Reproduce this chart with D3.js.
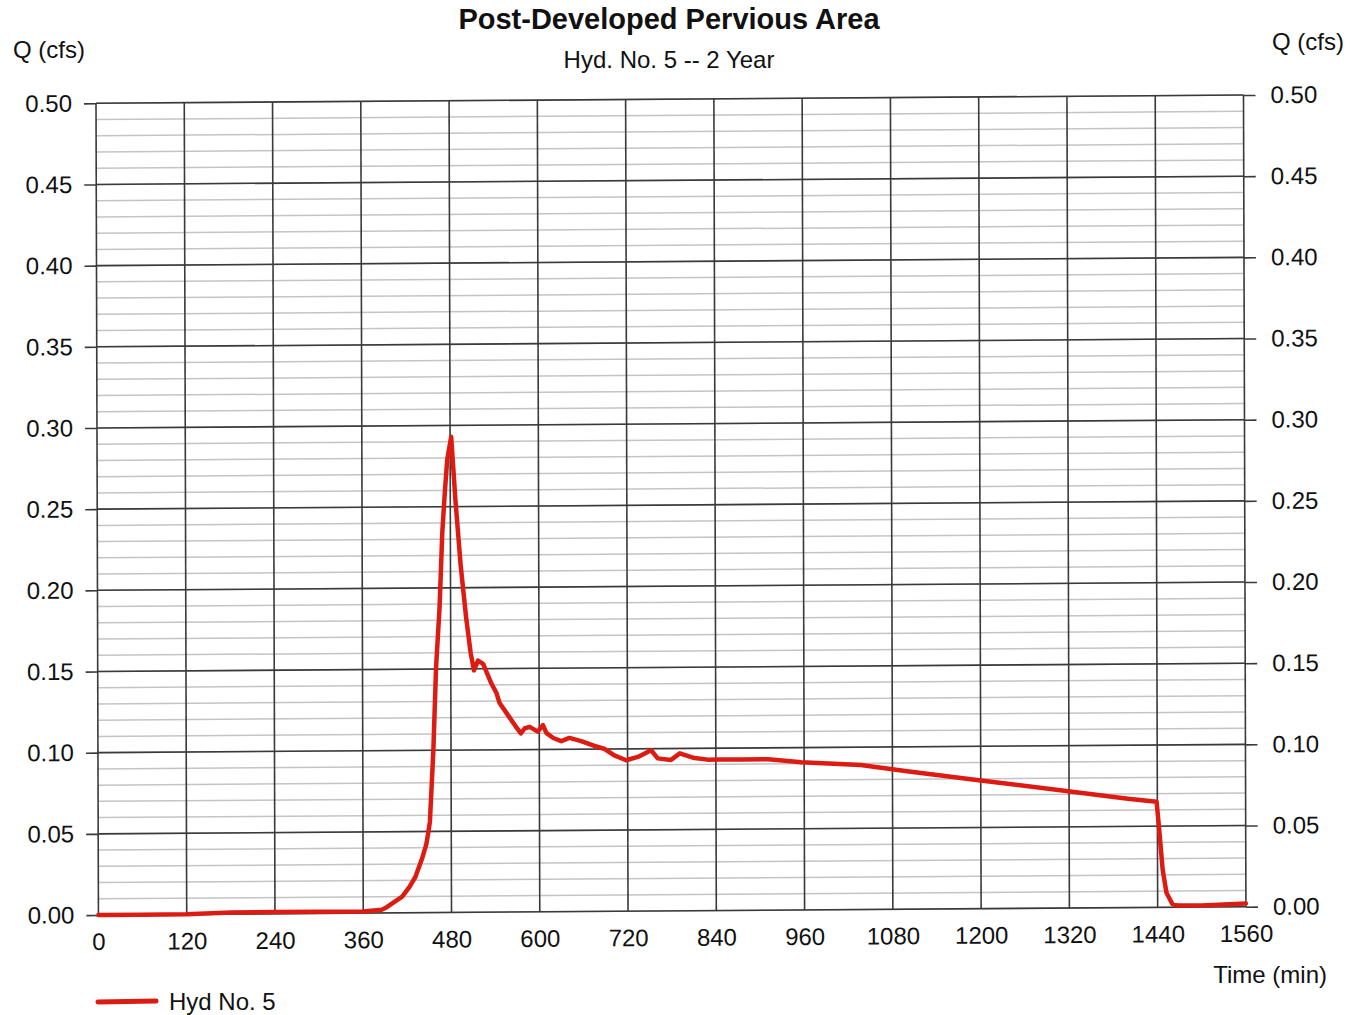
<!DOCTYPE html>
<html>
<head>
<meta charset="utf-8">
<script src="https://cdn.jsdelivr.net/npm/d3@7"></script>
<style>
  body { margin: 0; background: #fff; }
  svg { font-family: "Liberation Sans", Arial, sans-serif; }
</style>
</head>
<body>
<svg id="chart" width="1359" height="1015"></svg>
<script>
// hydrograph values
var timeMin = [0, 60, 120, 180, 240, 300, 360, 385, 390, 400, 413, 423, 431, 440, 446, 449, 451,
  456, 460, 465, 469, 472.5, 476, 481.5, 487, 494, 501, 507, 511.5, 517, 524, 535, 542, 546,
  558, 567, 575, 580, 587, 598, 605, 610, 619, 630, 641, 657, 675, 689, 702, 718, 734, 752,
  761, 779, 791, 811, 829, 847, 874, 911, 956, 1037, 1100, 1200, 1300, 1400, 1439, 1442,
  1447, 1452, 1460, 1467, 1500, 1560]
var flowCfs = [0.000, 0.000, 0.000, 0.001, 0.001, 0.001, 0.001, 0.002, 0.003, 0.006, 0.010,
  0.016, 0.022, 0.033, 0.042, 0.050, 0.056, 0.100, 0.151, 0.188, 0.234, 0.258, 0.279, 0.293,
  0.254, 0.213, 0.182, 0.160, 0.149, 0.155, 0.153, 0.141, 0.135, 0.129, 0.121, 0.115, 0.110,
  0.113, 0.114, 0.111, 0.115, 0.110, 0.107, 0.105, 0.107, 0.105, 0.102, 0.100, 0.096, 0.093,
  0.095, 0.099, 0.094, 0.093, 0.097, 0.094, 0.093, 0.093, 0.093, 0.093, 0.091, 0.089, 0.085,
  0.079, 0.073, 0.067, 0.065, 0.050, 0.023, 0.009, 0.002, 0.001, 0.001, 0.002]

var xTicks = d3.range(0, 1561, 120)
var yMajor = d3.range(0, 0.501, 0.05)
var yMinor = d3.range(0, 0.501, 0.01)

var titleText = "Post-Developed Pervious Area"
var subTitleText = "Hyd. No. 5 -- 2 Year"
var seriesName = "Hyd No. 5"

var svg = d3.select("#chart")

var width = 1147.5, height = 811.7

var x = d3.scaleLinear().domain([0, 1560]).range([0, width])
var y = d3.scaleLinear().domain([0, 0.5]).range([height, 0])

// the scanned page is slightly tilted, so the plot frame is too
var plot = svg.append("g")
  .attr("transform", "matrix(1,-0.0072,0.003,1,96,103.3)")

// minor grid
plot.append("g").selectAll("line")
  .data(yMinor)
  .enter().append("line")
  .attr("x1", 0).attr("x2", width)
  .attr("y1", function (d) { return y(d) })
  .attr("y2", function (d) { return y(d) })
  .attr("stroke", "#c4c4c4")
  .attr("stroke-width", 1.5)

// major grid
plot.append("g").selectAll("line")
  .data(yMajor)
  .enter().append("line")
  .attr("x1", 0).attr("x2", width)
  .attr("y1", function (d) { return y(d) })
  .attr("y2", function (d) { return y(d) })
  .attr("stroke", "#3a3a3a")
  .attr("stroke-width", 1.6)

plot.append("g").selectAll("line")
  .data(xTicks)
  .enter().append("line")
  .attr("x1", function (d) { return x(d) })
  .attr("x2", function (d) { return x(d) })
  .attr("y1", 0).attr("y2", height)
  .attr("stroke", "#3a3a3a")
  .attr("stroke-width", 1.6)

// axes
var yAxisL = d3.axisLeft(y).tickValues(yMajor).tickSize(12).tickPadding(12)
  .tickFormat(d3.format(".2f"))
var yAxisR = d3.axisRight(y).tickValues(yMajor).tickSize(12).tickPadding(15)
  .tickFormat(d3.format(".2f"))
var xAxis = d3.axisBottom(x).tickValues(xTicks).tickSize(0).tickPadding(18)
  .tickFormat(d3.format("d"))

function styleAxis(g) {
  g.select(".domain").remove()
  g.selectAll("line").attr("stroke", "#3a3a3a").attr("stroke-width", 1.6)
  g.selectAll("text").attr("font-size", 24).attr("fill", "#111")
    .attr("font-family", "Liberation Sans, Arial, sans-serif")
}

plot.append("g").call(yAxisL).call(styleAxis)
plot.append("g").attr("transform", "translate(" + width + ",0)").call(yAxisR).call(styleAxis)
plot.append("g").attr("transform", "translate(0," + height + ")").call(xAxis).call(styleAxis)

// series
var data = timeMin.map(function (t, i) { return [t, flowCfs[i]] })
var line = d3.line()
  .x(function (d) { return x(d[0]) })
  .y(function (d) { return y(d[1]) })

plot.append("path")
  .datum(data)
  .attr("d", line)
  .attr("fill", "none")
  .attr("stroke", "#dc1c12")
  .attr("stroke-width", 4.5)
  .attr("stroke-linejoin", "round")
  .attr("stroke-linecap", "round")

// titles and labels
svg.append("text").attr("x", 669).attr("y", 29).attr("text-anchor", "middle")
  .attr("font-size", 29).attr("font-weight", "bold").attr("fill", "#111").text(titleText)
svg.append("text").attr("x", 669).attr("y", 68).attr("text-anchor", "middle")
  .attr("font-size", 24).attr("fill", "#111").text(subTitleText)
svg.append("text").attr("x", 13).attr("y", 58)
  .attr("font-size", 24).attr("fill", "#111").text("Q (cfs)")
svg.append("text").attr("x", 1272).attr("y", 50)
  .attr("font-size", 24).attr("fill", "#111").text("Q (cfs)")
svg.append("text").attr("x", 1327).attr("y", 983).attr("text-anchor", "end")
  .attr("font-size", 24).attr("fill", "#111").text("Time (min)")

// legend
svg.append("line").attr("x1", 98).attr("x2", 156).attr("y1", 1002).attr("y2", 1001)
  .attr("stroke", "#dc1c12").attr("stroke-width", 5).attr("stroke-linecap", "round")
svg.append("text").attr("x", 169).attr("y", 1010)
  .attr("font-size", 24).attr("fill", "#111").text(seriesName)
</script>
</body>
</html>
